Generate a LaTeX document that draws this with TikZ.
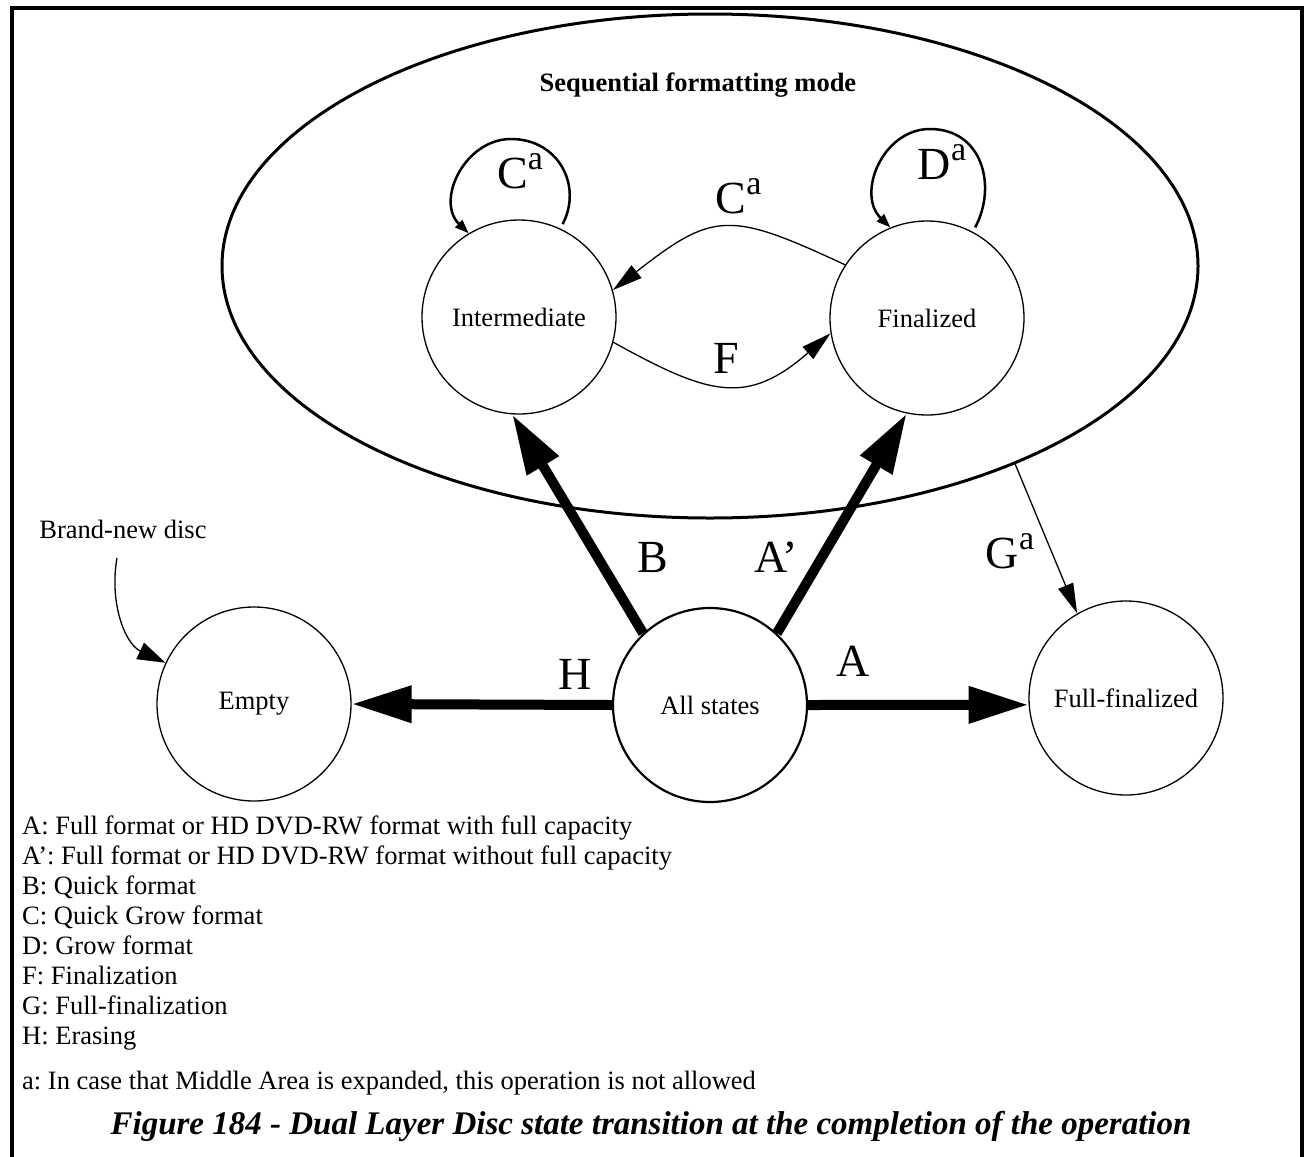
\documentclass[tikz,border=0pt]{standalone}
\usepackage{fontspec}
\setmainfont{Liberation Serif}
\usetikzlibrary{arrows.meta, shapes.geometric}
\frenchspacing
\newcommand{\opa}[1]{#1\raisebox{19pt}{\fontsize{34}{34}\selectfont a}}

\tikzset{
  state/.style={circle, draw, line width=1.3pt, minimum size=194pt, inner sep=0pt,
    font=\fontsize{26.5}{30}\selectfont},
  bigarrow/.style={line width=10pt, -{Triangle[length=60pt, width=35pt]}},
  thinarrow/.style={line width=1.3pt, -{Triangle[length=30pt, width=16pt]}},
  looparrow/.style={line width=2.5pt, shorten <=5pt, -{Triangle[length=14pt, width=10pt]}},
  oplabel/.style={inner sep=0pt, font=\fontsize{46}{46}\selectfont},
  legend/.style={anchor=base west, inner sep=0pt, font=\fontsize{26.5}{30}\selectfont}
}

\begin{document}
\begin{tikzpicture}[x=1pt, y=-1pt]
  \useasboundingbox (0,0) rectangle (1307,1157);
  % frame, open at the bottom
  \draw[line width=3.5pt] (12,1170) -- (12,8) -- (1302,8) -- (1302,1170);

  % sequential formatting mode
  \node[ellipse, draw, line width=3pt, minimum width=976pt, minimum height=504pt, inner sep=0pt] (seqmode) at (710,266) {};
  \node[inner sep=0pt, font=\bfseries\fontsize{26.5}{30}\selectfont] (seqtitle) at (698,85) {Sequential formatting mode};

  % states
  \node[state] (inter) at (519,317) {Intermediate};
  \node[state] (final) at (927,318) {Finalized};
  \node[state] (empty) at (254,704) {Empty};
  \node[state, line width=2.2pt] (allst) at (710,705) {All states};
  \node[state] (fullfin) at (1126,698) {Full-finalized};

  \node[inner sep=0pt, font=\fontsize{26.5}{30}\selectfont] (brandnew) at (123,529) {Brand-new disc};
  \coordinate (newstart) at (117,558);
  \coordinate (ctop) at (511,139);
  \coordinate (dtop) at (930,129);

  % transitions
  \draw[bigarrow] (allst.west) -- (empty.east);
  \draw[bigarrow] (allst.east) -- (fullfin.184);
  \draw[bigarrow] (allst.133) -- (inter.266);
  \draw[bigarrow] (allst.47.5) -- (final.258);

  \draw[thinarrow] (final.147) to[out=155, in=38, looseness=1.4] (inter.16.5);
  \draw[thinarrow] (inter.-15.6) to[out=-29, in=221, looseness=1.3] (final.189);
  \draw[looparrow] (inter.65) to[out=62, in=0, looseness=1.2] (ctop) to[out=180, in=136, looseness=1.15] (inter.121);
  \draw[looparrow] (final.62) to[out=62, in=0, looseness=1.2] (dtop) to[out=180, in=136, looseness=1.15] (final.112);

  \draw[thinarrow] (seqmode.-33) -- (fullfin.120.5);
  \draw[thinarrow, -{Triangle[length=28pt, width=18pt]}] (newstart) to[out=-100, in=155] (empty.155);

  % labels
  \node[oplabel] (lblCi) at (520,171.5) {\opa{C}};
  \node[oplabel] (lblD) at (942,162.5) {\opa{D}};
  \node[oplabel] (lblC) at (738.5,196.5) {\opa{C}};
  \node[oplabel] (lblF) at (726.5,358.5) {F};
  \node[oplabel] (lblH) at (575,674) {H};
  \node[oplabel] (lblA) at (853.5,661.5) {A};
  \node[oplabel] (lblB) at (653,557) {B};
  \node[oplabel] (lblAp) at (776,557) {A’};
  \node[oplabel] (lblG) at (1010,551) {\opa{G}};

  % legend
  \foreach \txt [count=\i] in {A: Full format or HD DVD-RW format with full capacity,
      A’: Full format or HD DVD-RW format without full capacity,
      B: Quick format, C: Quick Grow format, D: Grow format,
      F: Finalization, G: Full-finalization, H: Erasing}
    \node[legend] (leg\i) at (22,804+30*\i) {\txt};
  \node[legend] (note) at (22,1089) {a: In case that Middle Area is expanded, this operation is not allowed};

  \node[anchor=base, inner sep=0pt, font=\bfseries\itshape\fontsize{33}{36}\selectfont] (caption) at (651,1134)
    {Figure 184 - Dual Layer Disc state transition at the completion of the operation};
\end{tikzpicture}
\end{document}
